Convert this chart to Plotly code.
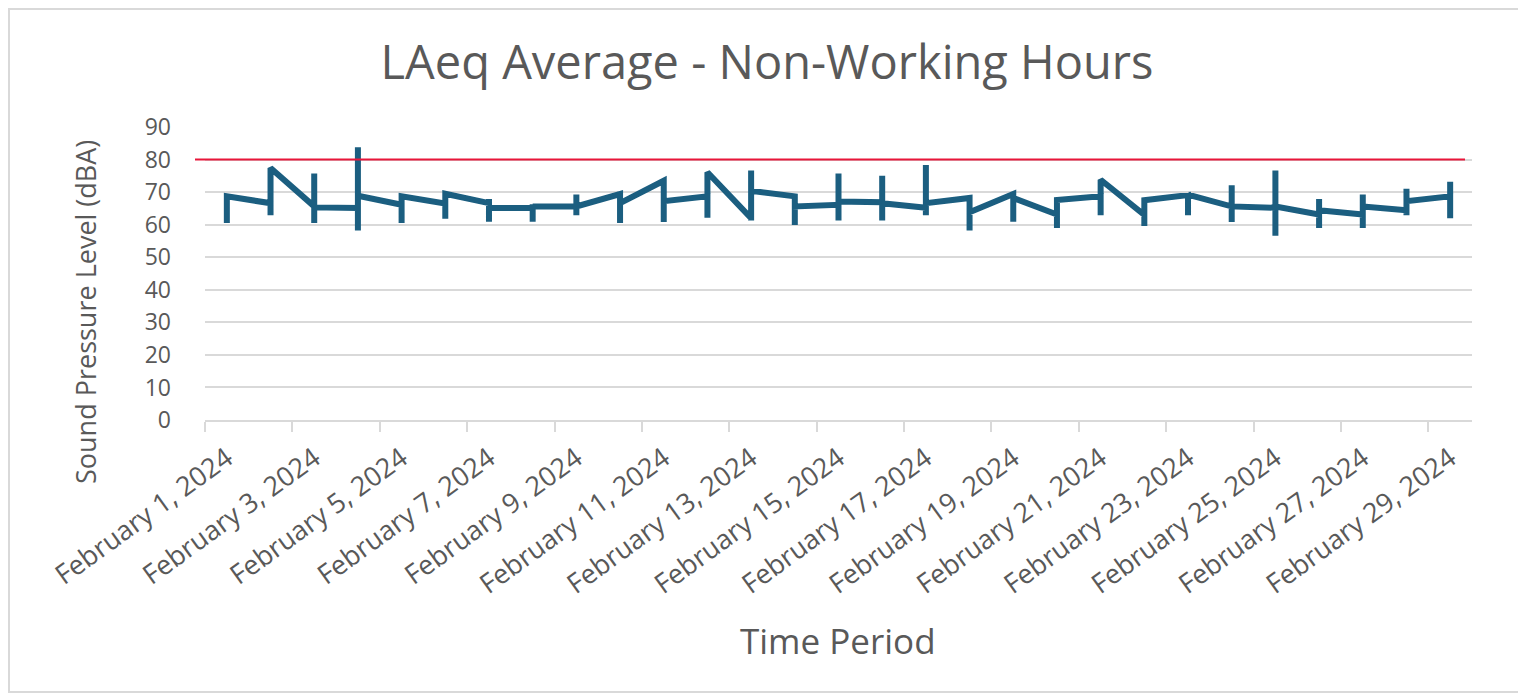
import plotly.graph_objects as go

# ---------------- data ----------------
dates = ["2024-02-%02d" % d for d in range(1, 30)]
# value where the line arrives at each day, daily low, daily high, value where it leaves
day_entry = [60.5, 66.6, 65.6, 65.1, 66.1, 66.5, 66.6, 65.1, 65.6, 69.4,
             73.5, 68.7, 62.0, 68.7, 66.1, 66.9, 65.2, 68.2, 69.4, 63.1,
             68.7, 63.0, 69.1, 65.6, 65.2, 63.1, 63.1, 64.4, 68.7]
day_low = [60.5, 62.9, 60.5, 58.2, 60.5, 61.8, 60.9, 60.9, 62.9, 60.5,
           60.8, 62.1, 61.3, 59.9, 61.3, 61.3, 62.9, 58.2, 60.9, 59.0,
           62.9, 59.6, 62.9, 60.8, 56.6, 59.0, 59.0, 62.9, 62.0]
day_high = [68.7, 77.4, 75.7, 83.8, 68.7, 69.5, 67.9, 66.3, 69.3, 70.2,
            73.8, 76.1, 76.6, 69.3, 75.7, 75.0, 78.3, 68.2, 69.4, 67.6,
            73.8, 67.5, 69.3, 72.1, 76.6, 67.9, 69.3, 71.0, 73.2]
day_exit = [68.7, 77.4, 65.3, 68.9, 68.7, 69.5, 65.1, 65.6, 65.6, 66.6,
            67.2, 76.1, 70.4, 65.6, 67.1, 66.6, 66.6, 63.8, 68.2, 67.6,
            73.8, 67.5, 69.2, 65.6, 65.6, 64.4, 65.6, 67.2, 73.2]
limit_value = 80

tick_dates = ["2024-02-%02d" % d for d in range(1, 30, 2)]
tick_labels = ["February 1, 2024", "February 3, 2024", "February 5, 2024",
               "February 7, 2024", "February 9, 2024", "February 11, 2024",
               "February 13, 2024", "February 15, 2024", "February 17, 2024",
               "February 19, 2024", "February 21, 2024", "February 23, 2024",
               "February 25, 2024", "February 27, 2024", "February 29, 2024"]
boundary_ticks = ["2024-01-31 12:00"] + ["2024-02-%02d 12:00" % d for d in range(2, 29, 2)]
y_ticks = [0, 10, 20, 30, 40, 50, 60, 70, 80, 90]

# ---------------- build path ----------------
xs, ys = [], []
for d, a, lo, hi, b in zip(dates, day_entry, day_low, day_high, day_exit):
    for v in (a, lo, hi, b):
        xs.append(d)
        ys.append(v)

# page body has an 8px margin; work in figure pixels = screen pixels - 8
OFF = 8
W, H = 1526 - OFF, 694 - OFF
L, T = 205 - OFF, 127 - OFF
R = W - (1472 - OFF)
B = H - (420 - OFF)
pw, ph = W - L - R, H - T - B


def px_x(p):
    return (p - OFF - L) / pw


def px_y(p):
    return (H - B - (p - OFF)) / ph


GREY = "#595959"
FONT = "Open Sans"

fig = go.Figure()
fig.add_trace(go.Scatter(
    x=xs, y=ys, mode="lines",
    line=dict(color="#1b5e80", width=6),
    hoverinfo="skip", showlegend=False,
))

fig.update_layout(
    width=W, height=H,
    margin=dict(l=L, r=R, t=T, b=B),
    paper_bgcolor="white", plot_bgcolor="white",
    title=dict(text="LAeq Average - Non-Working Hours",
               x=0.5, xref="container", xanchor="center",
               y=1 - (63 - OFF) / H, yref="container", yanchor="middle",
               font=dict(family=FONT, size=47, color=GREY)),
    xaxis=dict(
        type="date",
        range=["2024-01-31 12:00", "2024-02-29 12:00"],
        tickmode="array", tickvals=tick_dates, ticktext=tick_labels,
        tickangle=-36, ticks="", ticklabelstandoff=10,
        tickfont=dict(family=FONT, size=27, color=GREY),
        showgrid=False, zeroline=False,
        showline=True, linecolor="#d9d9d9", linewidth=1.5,
        minor=dict(tickmode="array", tickvals=boundary_ticks, ticks="outside",
                   ticklen=10, tickcolor="#d9d9d9", tickwidth=1.5, showgrid=False),
    ),
    yaxis=dict(
        range=[0, 90], tickmode="array", tickvals=y_ticks,
        ticks="", ticklabelstandoff=33,
        tickfont=dict(family=FONT, size=23, color=GREY),
        showgrid=True, gridcolor="#d9d9d9", gridwidth=1.5,
        zeroline=False, showline=False,
    ),
    shapes=[
        dict(type="line", xref="paper", yref="y",
             x0=px_x(195), x1=px_x(1465), y0=limit_value, y1=limit_value,
             line=dict(color="#e8163a", width=2)),
        dict(type="rect", xref="paper", yref="paper",
             x0=px_x(9), x1=px_x(1522), y0=px_y(9), y1=px_y(692),
             line=dict(color="#d9d9d9", width=2), fillcolor="rgba(0,0,0,0)"),
    ],
    annotations=[
        dict(text="Sound Pressure Level (dBA)", textangle=-90,
             xref="paper", yref="paper", x=px_x(85), y=px_y(312),
             xanchor="center", yanchor="middle", showarrow=False,
             font=dict(family=FONT, size=27, color=GREY)),
        dict(text="Time Period",
             xref="paper", yref="paper", x=px_x(838), y=px_y(640),
             xanchor="center", yanchor="middle", showarrow=False,
             font=dict(family=FONT, size=35, color=GREY)),
    ],
)

fig.write_html("out.html")
